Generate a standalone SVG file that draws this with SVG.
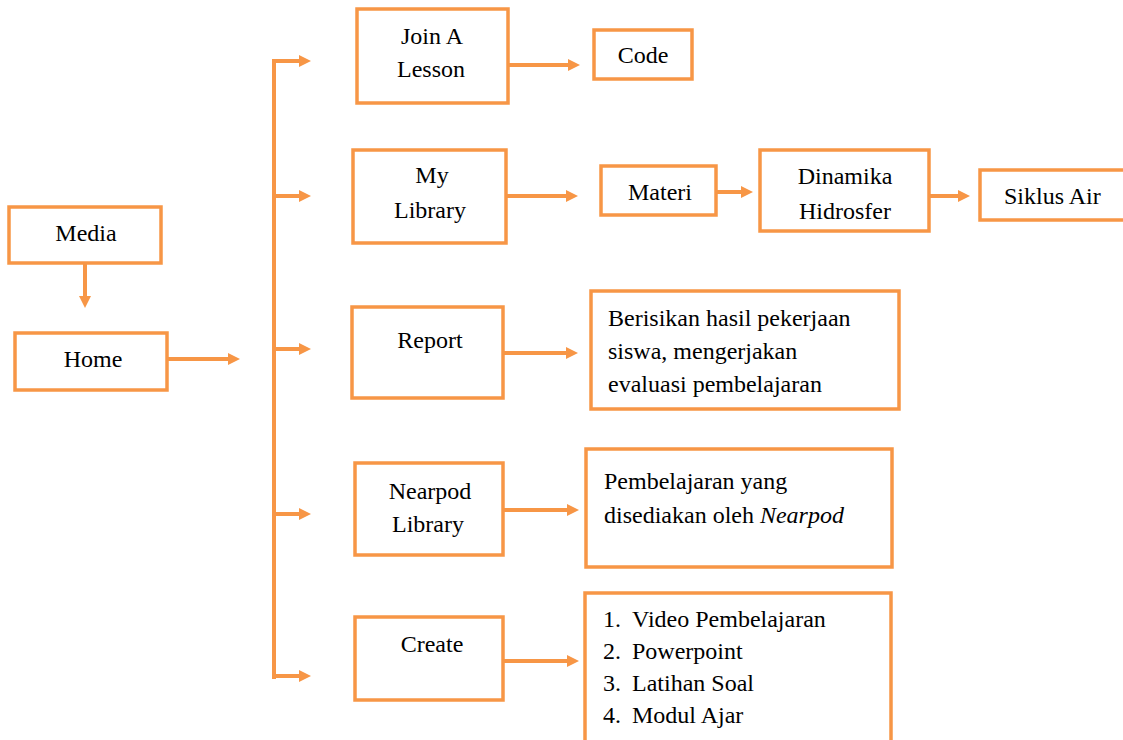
<svg xmlns="http://www.w3.org/2000/svg" width="1123" height="740" viewBox="0 0 1123 740">
<defs>
<style>
.box{fill:#fff;stroke:#F79646;stroke-width:3.5}
text{font-family:'Liberation Serif',serif;font-size:24px;fill:#000}
.c{text-anchor:middle}
.ln{stroke:#F79646;stroke-width:4;fill:none}
.ar{stroke:#F79646;stroke-width:4;fill:none;marker-end:url(#ah)}
</style>
<marker id="ah" markerUnits="userSpaceOnUse" markerWidth="12" markerHeight="12" viewBox="0 0 12 12" refX="4" refY="6" orient="auto">
<path d="M0,0 L12,6 L0,12 z" fill="#F79646"/>
</marker>
</defs>
<rect width="1123" height="740" fill="#fff"/>
<g id="connectors">
<line class="ar" x1="85" y1="263" x2="85" y2="300"/>
<line class="ar" x1="167" y1="359" x2="232" y2="359"/>
<line class="ln" x1="274" y1="59" x2="274" y2="679"/>
<line class="ar" x1="272" y1="61" x2="303" y2="61"/>
<line class="ar" x1="272" y1="196" x2="303" y2="196"/>
<line class="ar" x1="272" y1="349" x2="303" y2="349"/>
<line class="ar" x1="272" y1="514" x2="303" y2="514"/>
<line class="ar" x1="272" y1="676" x2="303" y2="676"/>
<line class="ar" x1="508" y1="65" x2="572" y2="65"/>
<line class="ar" x1="506" y1="196" x2="570" y2="196"/>
<line class="ar" x1="716" y1="192" x2="745" y2="192"/>
<line class="ar" x1="929" y1="196" x2="962" y2="196"/>
<line class="ar" x1="503" y1="353" x2="570" y2="353"/>
<line class="ar" x1="503" y1="510" x2="571" y2="510"/>
<line class="ar" x1="503" y1="661" x2="571" y2="661"/>
</g>
<g id="media"><rect class="box" x="9" y="207" width="152" height="56"/><text class="c" x="86" y="241">Media</text></g>
<g id="home"><rect class="box" x="15" y="333" width="152" height="57"/><text class="c" x="93" y="367">Home</text></g>
<g id="join"><rect class="box" x="357" y="9" width="151" height="94"/><text class="c" x="432" y="44">Join A</text><text class="c" x="431" y="77">Lesson</text></g>
<g id="code"><rect class="box" x="594" y="30" width="98" height="49"/><text class="c" x="643" y="63">Code</text></g>
<g id="mylibrary"><rect class="box" x="353" y="150" width="153" height="93"/><text class="c" x="432" y="183">My</text><text class="c" x="430" y="218">Library</text></g>
<g id="materi"><rect class="box" x="601" y="166" width="115" height="49"/><text class="c" x="660" y="200">Materi</text></g>
<g id="dinamika"><rect class="box" x="760" y="150" width="169" height="81"/><text class="c" x="845" y="184">Dinamika</text><text class="c" x="845" y="219">Hidrosfer</text></g>
<g id="siklus"><rect class="box" x="980" y="170" width="150" height="50"/><text x="1004" y="204">Siklus Air</text></g>
<g id="report"><rect class="box" x="352" y="307" width="151" height="91"/><text class="c" x="430" y="348">Report</text></g>
<g id="reportdesc"><rect class="box" x="591" y="291" width="308" height="118"/><text x="608" y="326">Berisikan hasil pekerjaan</text><text x="608" y="359">siswa, mengerjakan</text><text x="608" y="392">evaluasi pembelajaran</text></g>
<g id="nearpod"><rect class="box" x="355" y="463" width="148" height="92"/><text class="c" x="430" y="499">Nearpod</text><text class="c" x="428" y="532">Library</text></g>
<g id="nearpoddesc"><rect class="box" x="586" y="449" width="306" height="118"/><text x="604" y="489">Pembelajaran yang</text><text x="604" y="523">disediakan oleh <tspan font-style="italic">Nearpod</tspan></text></g>
<g id="create"><rect class="box" x="355" y="617" width="148" height="83"/><text class="c" x="432" y="652">Create</text></g>
<g id="createlist"><rect class="box" x="585" y="593" width="306" height="160"/>
<text x="603" y="627">1.</text><text x="632" y="627">Video Pembelajaran</text>
<text x="603" y="659">2.</text><text x="632" y="659">Powerpoint</text>
<text x="603" y="691">3.</text><text x="632" y="691">Latihan Soal</text>
<text x="603" y="723">4.</text><text x="632" y="723">Modul Ajar</text>
</g>
</svg>
